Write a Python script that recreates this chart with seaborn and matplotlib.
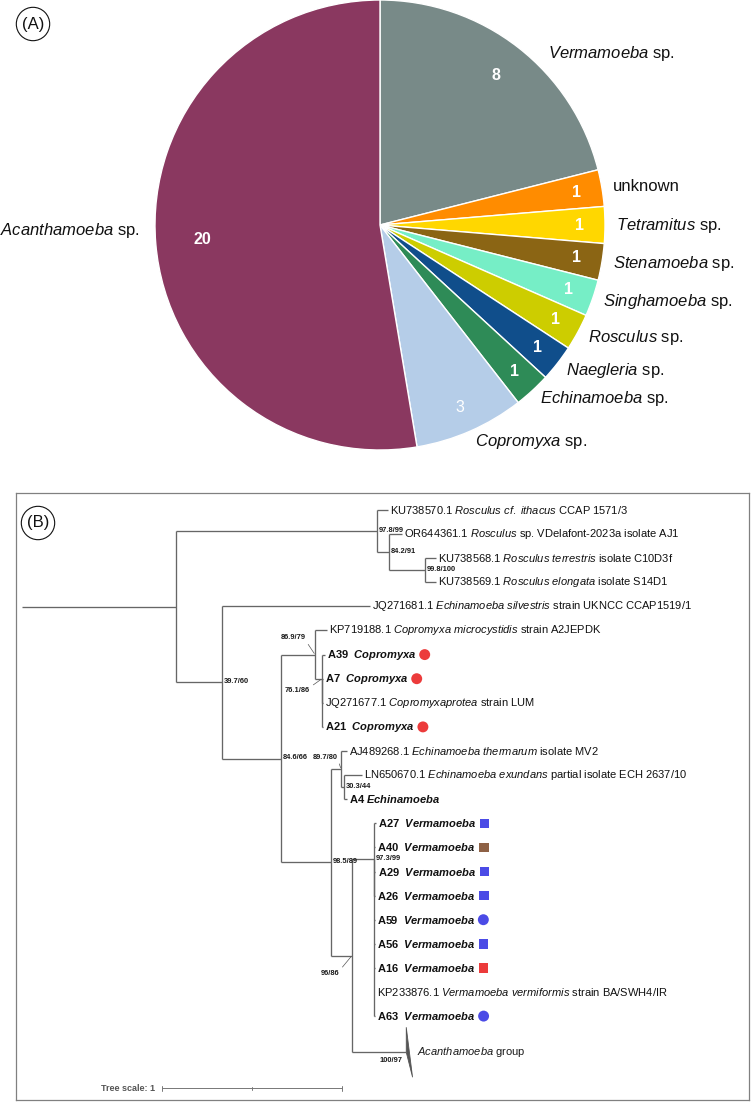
import matplotlib
matplotlib.use("Agg")
import matplotlib.pyplot as plt
from matplotlib.patches import Polygon
import seaborn as sns
import pandas as pd
import numpy as np

# Panel A: isolates per genus, clockwise from 12 o'clock
genus_names = ["Vermamoeba", "unknown", "Tetramitus", "Stenamoeba", "Singhamoeba",
               "Rosculus", "Naegleria", "Echinamoeba", "Copromyxa", "Acanthamoeba"]
isolate_counts = [8, 1, 1, 1, 1, 1, 1, 1, 3, 20]
genus_colors = ["#788a88", "#ff8c00", "#ffd700", "#8b6514", "#76eec6",
                "#cdcd00", "#104e8b", "#2e8b57", "#b5cde8", "#8a3860"]

# Panel B: tree tips, top to bottom
tip_ids = ["KU738570.1", "OR644361.1", "KU738568.1", "KU738569.1", "JQ271681.1",
           "KP719188.1", "A39", "A7", "JQ271677.1", "A21", "AJ489268.1", "LN650670.1",
           "A4", "A27", "A40", "A29", "A26", "A59", "A56", "A16", "KP233876.1", "A63"]
tip_species = ["Rosculus cf. ithacus", "Rosculus", "Rosculus terrestris", "Rosculus elongata",
               "Echinamoeba silvestris", "Copromyxa microcystidis", "Copromyxa", "Copromyxa",
               "Copromyxaprotea", "Copromyxa", "Echinamoeba thermarum", "Echinamoeba exundans",
               "Echinamoeba", "Vermamoeba", "Vermamoeba", "Vermamoeba", "Vermamoeba",
               "Vermamoeba", "Vermamoeba", "Vermamoeba", "Vermamoeba vermiformis", "Vermamoeba"]
tip_rest = ["CCAP 1571/3", "sp. VDelafont-2023a isolate AJ1", "isolate C10D3f", "isolate S14D1",
            "strain UKNCC CCAP1519/1", "strain A2JEPDK", "", "", "strain LUM", "",
            "isolate MV2", "partial isolate ECH 2637/10", "", "", "", "", "", "", "", "",
            "strain BA/SWH4/IR", ""]

# tree edges (parent, child, branch length)
edge_parent = ["stem", "N0", "N1", "N1", "N2", "N2", "N3", "N3", "N0", "N4", "N4",
               "N5", "N6", "N6", "N6x", "N6x", "N6y", "N6y", "N6y", "N5", "N7", "N8",
               "N8", "N8b", "N8b", "N7", "N9", "N10", "N10a", "N10a", "N10a", "N10a",
               "N10", "N10", "N10", "N10", "N10", "N9"]
edge_child = ["N0", "N1", "KU738570.1", "N2", "OR644361.1", "N3", "KU738568.1", "KU738569.1",
              "N4", "JQ271681.1", "N5", "N6", "KP719188.1", "N6x", "A39", "N6y", "A7",
              "JQ271677.1", "A21", "N7", "N8", "AJ489268.1", "N8b", "LN650670.1", "A4",
              "N9", "N10", "N10a", "A27", "A40", "A29", "A26", "A59", "A56", "A16",
              "KP233876.1", "A63", "Acanthamoeba"]
edge_length = [0.859, 1.115, 0.061, 0.068, 0.069, 0.198, 0.061, 0.061, 0.254, 0.822, 0.328,
               0.189, 0.065, 0.039, 0.014, 0.002, 0.002, 0.001, 0.002, 0.278, 0.056, 0.033,
               0.017, 0.098, 0.017, 0.115, 0.124, 0.002, 0.007, 0.004, 0.006, 0.004,
               0.004, 0.004, 0.004, 0.002, 0.004, 0.303]
anchored_nodes = ["N10"]
collapsed_clade = "Acanthamoeba"
collapsed_rows = 2
collapsed_depth = [0.0, 0.035]

support_nodes = ["N1", "N2", "N3", "N4", "N5", "N6", "N6x", "N7", "N8", "N8b", "N9", "N10",
                 "Acanthamoeba"]
support_values = ["97.8/99", "84.2/91", "99.8/100", "39.7/60", "84.6/66", "86.9/79", "76.1/86",
                  "98.5/89", "89.7/80", "30.3/44", "96/86", "97.3/99", "100/97"]

marked_tips = ["A39", "A7", "A21", "A27", "A40", "A29", "A26", "A59", "A56", "A16", "A63"]
marker_shapes = ["o", "o", "o", "s", "s", "s", "s", "o", "s", "s", "o"]
marker_colors = ["#ec3b3b", "#ec3b3b", "#ec3b3b", "#4b4be6", "#8e6145", "#4b4be6", "#4b4be6",
                 "#4b4be6", "#4b4be6", "#ec3b3b", "#4b4be6"]

sns.set_theme(style="white")
plt.rcParams["font.family"] = ["Liberation Sans", "DejaVu Sans"]
plt.rcParams["mathtext.fontset"] = "custom"
plt.rcParams["mathtext.rm"] = "Liberation Sans"
plt.rcParams["mathtext.it"] = "Liberation Sans:italic"
plt.rcParams["mathtext.bf"] = "Liberation Sans:bold"
plt.rcParams["mathtext.bfit"] = "Liberation Sans:bold:italic"

W, H = 751, 1102
fig = plt.figure(figsize=(W / 100, H / 100), dpi=100)


def px_box(x0, y0, w, h):
    return [x0 / W, 1 - (y0 + h) / H, w / W, h / H]


def it(s, bold=False):
    cmd = r"\mathbfit" if bold else r"\mathit"
    return "$" + cmd + "{" + s.replace(" ", r"\ ") + "}$"


def panel_tag(x, y, tag):
    fig.text(x / W, 1 - y / H, tag, ha="center", va="center", fontsize=12, color="#111",
             bbox=dict(boxstyle="circle,pad=0.33", fc="white", ec="#111", lw=0.8))


# ---------------- (A) pie ----------------
ax_a = fig.add_axes(px_box(155, 0, 450, 450))
wedges, _ = ax_a.pie(isolate_counts, colors=genus_colors, startangle=90, counterclock=False,
                     wedgeprops=dict(edgecolor="white", linewidth=1.0))
ax_a.set_xlim(-1, 1)
ax_a.set_ylim(-1, 1)
ax_a.axis("off")

count_radius = {"Acanthamoeba": 0.79, "Vermamoeba": 0.84}
label_nudge = {"Vermamoeba": (23, 15), "Acanthamoeba": (-5, -14)}  # px right, px down
for w, name, n in zip(wedges, genus_names, isolate_counts):
    mid = np.deg2rad((w.theta1 + w.theta2) / 2)
    r = count_radius.get(name, 0.885)
    ax_a.text(r * np.cos(mid), r * np.sin(mid), str(n), ha="center", va="center",
              color="white", fontsize=11.5, fontweight="bold" if n != 3 else "normal")
    lab = name if name == "unknown" else it(name) + " sp."
    x, y = 1.05 * np.cos(mid), 1.05 * np.sin(mid)
    dx, dy = label_nudge.get(name, (0, 0))
    ax_a.annotate(lab, (x, y), xytext=(dx * 0.72, -dy * 0.72), textcoords="offset points",
                  ha="left" if x > 0 else "right", va="center", fontsize=12, color="#111",
                  annotation_clip=False)

panel_tag(33, 24, "(A)")

# ---------------- (B) tree ----------------
unit_px, row_px, row0_px, root_px = 180.0, 24.1, 510.0, 21.6
ax_b = fig.add_axes(px_box(16, 493, 733, 607))
x_left = -(root_px - 16) / unit_px
ax_b.set_xlim(x_left, x_left + 733 / unit_px)
ax_b.set_ylim((1100 - row0_px) / row_px, (493 - row0_px) / row_px)
ax_b.set_xticks([])
ax_b.set_yticks([])
for s in ax_b.spines.values():
    s.set_visible(True)
    s.set_color("#808080")
    s.set_linewidth(0.9)

kids = {}
for p, c, l in zip(edge_parent, edge_child, edge_length):
    kids.setdefault(p, []).append((c, l))

node_x = {"stem": 0.0}


def place_x(n):
    for c, l in kids.get(n, []):
        node_x[c] = node_x[n] + l
        place_x(c)


place_x("stem")

node_y = {t: i for i, t in enumerate(tip_ids)}
node_y[collapsed_clade] = len(tip_ids) + (collapsed_rows - 1) / 2


def place_y(n):
    if n in node_y:
        return node_y[n]
    ys = [place_y(c) for c, _ in kids[n]]
    node_y[n] = ys[0] if n in anchored_nodes else (ys[0] + ys[-1]) / 2
    return node_y[n]


place_y("stem")

line_c = "#666666"
lw = 0.95
for p, c in zip(edge_parent, edge_child):
    ax_b.plot([node_x[p], node_x[c]], [node_y[c], node_y[c]], color=line_c, lw=lw,
              solid_capstyle="butt")
for n, ch in kids.items():
    ys = [node_y[c] for c, _ in ch]
    if len(ys) > 1:
        ax_b.plot([node_x[n], node_x[n]], [min(ys), max(ys)], color=line_c, lw=lw,
                  solid_capstyle="butt")

# collapsed Acanthamoeba clade
cx, cy = node_x[collapsed_clade], node_y[collapsed_clade]
half = 25 / row_px
ax_b.add_patch(Polygon([(cx, cy), (cx + collapsed_depth[0], cy - half),
                        (cx + collapsed_depth[1], cy + half)], closed=True,
                       fc="#555555", ec="#555555", lw=0.6))
ax_b.text(cx + collapsed_depth[1] + 4 / unit_px, cy, it("Acanthamoeba") + " group",
          ha="left", va="center", fontsize=8, color="#1a1a1a")

# tip labels
tip_gap = 2.2 / unit_px
label_font = 8
iso_texts = {}
for tid, sp, rest in zip(tip_ids, tip_species, tip_rest):
    is_isolate = tid.startswith("A") and tid[1:].isdigit()
    if is_isolate:
        sep = "  " if tid in marked_tips else " "
        lab = r"$\mathbf{" + tid + "}$" + sep + it(sp, bold=True)
    else:
        lab = tid + " " + it(sp) + (" " + rest if rest else "")
    t = ax_b.text(node_x[tid] + tip_gap, node_y[tid], lab, ha="left", va="center",
                  fontsize=label_font, color="#111")
    iso_texts[tid] = t

# markers after the isolate names
fig.canvas.draw()
renderer = fig.canvas.get_renderer()
inv = ax_b.transData.inverted()
mx, my = [], []
for tid in marked_tips:
    bb = iso_texts[tid].get_window_extent(renderer)
    yd = ax_b.transData.transform((0, node_y[tid]))[1]
    xd, _ = inv.transform((bb.x1 + 8.5, yd))
    mx.append(xd)
    my.append(node_y[tid])
mk = pd.DataFrame({"x": mx, "y": my, "shape": marker_shapes, "color": marker_colors})
for shape, size in [("o", 62), ("s", 46)]:
    sub = mk[mk["shape"] == shape]
    sns.scatterplot(data=sub, x="x", y="y", marker=shape, s=size, color=sub["color"].tolist(),
                    linewidth=0, ax=ax_b, legend=False)
ax_b.set_xlabel("")
ax_b.set_ylabel("")

# support values
sup_font = dict(fontsize=5.4, fontweight="bold", color="#1a1a1a",
                family=["Liberation Sans Narrow", "Liberation Sans"])
leader_offsets = {"N6": (-9, -17, (1, 0)), "N6x": (-12, 12, (1, 1)),
                  "N8": (-3, -12, (1, 0)), "N9": (-12, 18, (1, 1))}
for n, v in zip(support_nodes, support_values):
    x0, y0 = node_x[n], node_y[n]
    if n in leader_offsets:
        dx, dy, rel = leader_offsets[n]
        ax_b.annotate(v, (x0, y0), xytext=(dx * 0.72, -dy * 0.72), textcoords="offset points",
                      ha="right", va="center",
                      arrowprops=dict(arrowstyle="-", color="#555", lw=0.5, shrinkA=0,
                                      shrinkB=1, relpos=rel), **sup_font)
    elif n == collapsed_clade:
        ax_b.annotate(v, (x0, y0), xytext=(-4 * 0.72, -8 * 0.72), textcoords="offset points",
                      ha="right", va="center", **sup_font)
    else:
        ax_b.annotate(v, (x0, y0), xytext=(2 * 0.72, 1 * 0.72), textcoords="offset points",
                      ha="left", va="center", **sup_font)

# tree scale bar
sb_x = (162.3 - root_px) / unit_px
sb_y = (1088.3 - row0_px) / row_px
tick = 2.5 / row_px
ax_b.plot([sb_x, sb_x + 1], [sb_y, sb_y], color="#777", lw=0.7)
for xx, tk in [(sb_x, tick), (sb_x + 0.5, tick * 0.5), (sb_x + 1, tick)]:
    ax_b.plot([xx, xx], [sb_y - tk, sb_y + tk], color="#777", lw=0.7)
ax_b.text(sb_x - 7 / unit_px, sb_y, "Tree scale: 1", ha="right", va="center", fontsize=6.5,
          fontweight="bold", color="#555")

panel_tag(38, 523, "(B)")

fig.savefig("out.png", dpi=100)
